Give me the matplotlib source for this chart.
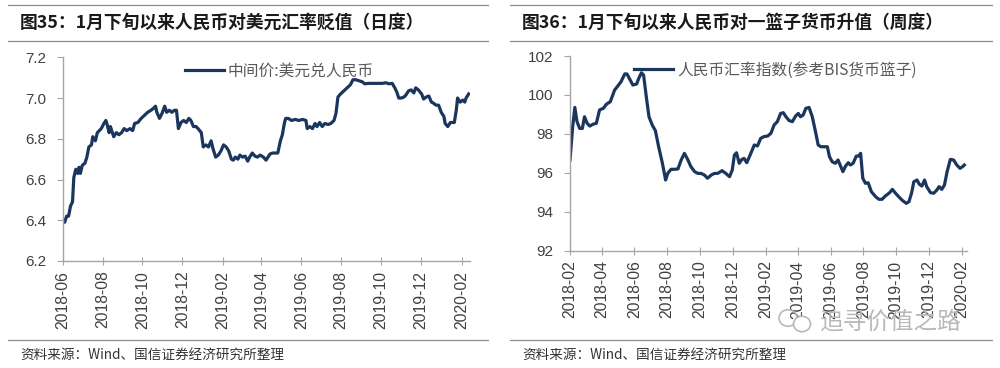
import pandas as pd
import matplotlib.pyplot as plt
from matplotlib.dates import MonthLocator, DateFormatter
from matplotlib.lines import Line2D
from matplotlib.patches import Ellipse

plt.rcParams['font.family'] = ['Liberation Sans', 'Noto Sans CJK SC', 'DejaVu Sans']
plt.rcParams['axes.unicode_minus'] = False

# 图35 中间价:美元兑人民币（日度，按图读取）
usd_dates = [
    '2018-06-02', '2018-06-04', '2018-06-07', '2018-06-10', '2018-06-13', '2018-06-16', '2018-06-18',
    '2018-06-21', '2018-06-24', '2018-06-26', '2018-06-28', '2018-07-01', '2018-07-05', '2018-07-08',
    '2018-07-11', '2018-07-15', '2018-07-17', '2018-07-21', '2018-07-24', '2018-07-27', '2018-07-30',
    '2018-08-03', '2018-08-06', '2018-08-08', '2018-08-11', '2018-08-13', '2018-08-16', '2018-08-18',
    '2018-08-22', '2018-08-26', '2018-08-30', '2018-09-03', '2018-09-07', '2018-09-12', '2018-09-16',
    '2018-09-19', '2018-09-24', '2018-09-29', '2018-10-04', '2018-10-09', '2018-10-14', '2018-10-18',
    '2018-10-21', '2018-10-23', '2018-10-27', '2018-10-31', '2018-11-04', '2018-11-07', '2018-11-11',
    '2018-11-15', '2018-11-19', '2018-11-22', '2018-11-25', '2018-11-29', '2018-12-03', '2018-12-07',
    '2018-12-11', '2018-12-14', '2018-12-18', '2018-12-22', '2018-12-25', '2018-12-30', '2019-01-02',
    '2019-01-06', '2019-01-10', '2019-01-14', '2019-01-17', '2019-01-21', '2019-01-25', '2019-01-29',
    '2019-02-02', '2019-02-06', '2019-02-10', '2019-02-14', '2019-02-17', '2019-02-20', '2019-02-24',
    '2019-02-27', '2019-03-03', '2019-03-07', '2019-03-11', '2019-03-14', '2019-03-18', '2019-03-22',
    '2019-03-26', '2019-03-30', '2019-04-04', '2019-04-08', '2019-04-11', '2019-04-14', '2019-04-18',
    '2019-04-22', '2019-04-26', '2019-04-30', '2019-05-03', '2019-05-06', '2019-05-08', '2019-05-12',
    '2019-05-17', '2019-05-23', '2019-05-28', '2019-06-03', '2019-06-08', '2019-06-10', '2019-06-14',
    '2019-06-18', '2019-06-22', '2019-06-25', '2019-06-29', '2019-07-03', '2019-07-07', '2019-07-12',
    '2019-07-16', '2019-07-21', '2019-07-24', '2019-07-27', '2019-07-31', '2019-08-05', '2019-08-10',
    '2019-08-15', '2019-08-19', '2019-08-23', '2019-08-28', '2019-09-02', '2019-09-06', '2019-09-12',
    '2019-09-22', '2019-10-03', '2019-10-08', '2019-10-13', '2019-10-18', '2019-10-22', '2019-10-25',
    '2019-10-28', '2019-11-01', '2019-11-05', '2019-11-08', '2019-11-12', '2019-11-16', '2019-11-20',
    '2019-11-23', '2019-11-27', '2019-12-02', '2019-12-05', '2019-12-09', '2019-12-13', '2019-12-17',
    '2019-12-20', '2019-12-24', '2019-12-28', '2020-01-01', '2020-01-05', '2020-01-07', '2020-01-11',
    '2020-01-15', '2020-01-18', '2020-01-21', '2020-01-24', '2020-01-26', '2020-01-30', '2020-02-03',
    '2020-02-06', '2020-02-08', '2020-02-12',
]
usd_cny = [
    6.40, 6.39, 6.42, 6.42, 6.47, 6.49, 6.61,
    6.65, 6.63, 6.66, 6.63, 6.67, 6.68, 6.71,
    6.76, 6.77, 6.81, 6.79, 6.83, 6.84, 6.85,
    6.875, 6.89, 6.87, 6.83, 6.86, 6.83, 6.81,
    6.83, 6.82, 6.83, 6.85, 6.84, 6.85, 6.84,
    6.875, 6.88, 6.90, 6.915, 6.93, 6.94, 6.95,
    6.96, 6.93, 6.90, 6.925, 6.96, 6.93, 6.94,
    6.93, 6.94, 6.94, 6.85, 6.88, 6.89, 6.88,
    6.90, 6.89, 6.86, 6.86, 6.85, 6.83, 6.76,
    6.77, 6.76, 6.79, 6.75, 6.71, 6.72, 6.74,
    6.77, 6.76, 6.74, 6.70, 6.695, 6.71, 6.70,
    6.72, 6.71, 6.715, 6.69, 6.71, 6.73, 6.715,
    6.71, 6.72, 6.71, 6.695, 6.71, 6.725, 6.73,
    6.73, 6.73, 6.79, 6.82, 6.875, 6.90, 6.90,
    6.89, 6.895, 6.89, 6.895, 6.89, 6.85, 6.86,
    6.85, 6.875, 6.86, 6.88, 6.86, 6.875, 6.87,
    6.875, 6.89, 6.925, 7.005, 7.02, 7.035, 7.05,
    7.065, 7.09, 7.09, 7.085, 7.08, 7.07, 7.072,
    7.072, 7.072, 7.075, 7.07, 7.072, 7.05, 7.03,
    7.00, 7.00, 7.005, 7.015, 7.035, 7.04, 7.025,
    7.05, 7.04, 7.02, 6.995, 7.005, 7.01, 6.98,
    6.975, 6.965, 6.965, 6.93, 6.91, 6.875, 6.86,
    6.88, 6.88, 6.88, 6.94, 7.00, 6.98, 6.99,
    6.98, 7.00, 7.02,
]

# 图36 人民币汇率指数(参考BIS货币篮子)（周度，按图读取）
bis_dates = [
    '2018-02-01', '2018-02-06', '2018-02-10', '2018-02-14', '2018-02-19', '2018-02-24', '2018-02-28',
    '2018-03-05', '2018-03-10', '2018-03-16', '2018-03-22', '2018-03-28', '2018-04-04', '2018-04-10',
    '2018-04-17', '2018-04-25', '2018-05-01', '2018-05-07', '2018-05-14', '2018-05-18', '2018-05-24',
    '2018-05-29', '2018-06-05', '2018-06-09', '2018-06-14', '2018-06-18', '2018-06-23', '2018-06-28',
    '2018-07-04', '2018-07-10', '2018-07-16', '2018-07-23', '2018-07-29', '2018-08-02', '2018-08-08',
    '2018-08-14', '2018-08-21', '2018-08-27', '2018-09-02', '2018-09-08', '2018-09-14', '2018-09-21',
    '2018-09-27', '2018-10-03', '2018-10-09', '2018-10-15', '2018-10-22', '2018-10-28', '2018-11-03',
    '2018-11-11', '2018-11-18', '2018-11-25', '2018-11-30', '2018-12-04', '2018-12-08', '2018-12-13',
    '2018-12-18', '2018-12-22', '2018-12-27', '2019-01-01', '2019-01-06', '2019-01-10', '2019-01-16',
    '2019-01-22', '2019-01-28', '2019-02-04', '2019-02-10', '2019-02-16', '2019-02-22', '2019-02-28',
    '2019-03-05', '2019-03-10', '2019-03-16', '2019-03-22', '2019-03-28', '2019-04-02', '2019-04-06',
    '2019-04-11', '2019-04-16', '2019-04-22', '2019-04-28', '2019-05-04', '2019-05-09', '2019-05-14',
    '2019-05-20', '2019-05-26', '2019-05-30', '2019-06-04', '2019-06-10', '2019-06-15', '2019-06-20',
    '2019-06-24', '2019-06-29', '2019-07-04', '2019-07-08', '2019-07-13', '2019-07-19', '2019-07-23',
    '2019-07-27', '2019-07-31', '2019-08-05', '2019-08-10', '2019-08-16', '2019-08-24', '2019-08-30',
    '2019-09-05', '2019-09-11', '2019-09-19', '2019-09-24', '2019-09-30', '2019-10-06', '2019-10-12',
    '2019-10-20', '2019-10-25', '2019-10-30', '2019-11-03', '2019-11-09', '2019-11-13', '2019-11-18',
    '2019-11-23', '2019-11-27', '2019-12-04', '2019-12-10', '2019-12-16', '2019-12-20', '2019-12-25',
    '2019-12-30', '2020-01-04', '2020-01-10', '2020-01-16', '2020-01-22', '2020-01-28', '2020-02-02',
    '2020-02-05',
]
bis_index = [
    96.66, 98.37, 99.36, 98.63, 98.28, 98.28, 98.88,
    98.54, 98.40, 98.50, 98.54, 99.23, 99.31, 99.53,
    99.65, 100.25, 100.46, 100.68, 101.08, 101.08, 100.77,
    100.51, 100.56, 100.85, 101.14, 101.02, 99.91, 98.88,
    98.46, 98.16, 97.34, 96.49, 95.63, 95.97, 96.18,
    96.18, 96.20, 96.66, 97.00, 96.69, 96.32, 96.06,
    95.97, 95.97, 95.89, 95.72, 95.89, 95.97, 95.97,
    96.11, 95.97, 95.80, 96.14, 96.91, 97.03, 96.49,
    96.69, 96.74, 96.52, 96.83, 97.17, 97.43, 97.38,
    97.77, 97.86, 97.89, 98.03, 98.46, 98.63, 99.05,
    99.09, 98.88, 98.68, 98.63, 98.92, 99.05, 98.88,
    98.97, 99.31, 99.36, 98.88, 98.11, 97.43, 97.34,
    97.34, 97.34, 96.83, 96.57, 96.49, 96.66, 96.32,
    96.06, 96.35, 96.52, 96.40, 96.49, 96.86, 96.86,
    97.00, 95.72, 95.46, 95.49, 95.03, 94.77, 94.64,
    94.64, 94.81, 94.98, 95.15, 94.95, 94.77, 94.60,
    94.43, 94.52, 94.98, 95.54, 95.63, 95.42, 95.32,
    95.63, 95.29, 94.98, 94.95, 95.12, 95.29, 95.15,
    95.37, 96.06, 96.69, 96.66, 96.40, 96.23, 96.32,
    96.40,
]

cjk = ['Noto Sans CJK SC', 'DejaVu Sans']
line_color = '#1B365D'
axis_color = '#A6A6A6'
tick_color = '#404040'


def draw_panel(fig, rect, x0, x1, dates, values, ylim, yticks, months, legend_txt, legend_x):
    ax = fig.add_axes(rect)
    ax.plot(pd.to_datetime(dates), values, color=line_color, linewidth=2.3, solid_joinstyle='round')
    ax.set_xlim(pd.Timestamp(x0), pd.Timestamp(x1))
    ax.set_ylim(*ylim)
    ax.set_yticks(yticks)
    ax.set_yticklabels([str(t) for t in yticks])
    ax.xaxis.set_major_locator(MonthLocator(bymonth=months))
    ax.xaxis.set_major_formatter(DateFormatter('%Y-%m'))
    for lab in ax.get_xticklabels():
        lab.set_rotation(90)
    for s in ['top', 'right']:
        ax.spines[s].set_visible(False)
    for s in ['left', 'bottom']:
        ax.spines[s].set_color(axis_color)
        ax.spines[s].set_linewidth(1.0)
    ax.tick_params(axis='y', direction='out', length=4, color=axis_color, labelsize=11,
                   labelcolor=tick_color, pad=8)
    ax.tick_params(axis='x', direction='inout', length=6, color=axis_color, labelsize=11.3,
                   labelcolor=tick_color, pad=4)
    h = Line2D([], [], color=line_color, linewidth=2.3)
    leg = ax.legend([h], [legend_txt], loc='upper left', bbox_to_anchor=(legend_x, 1.045),
                    frameon=False, prop={'family': cjk, 'size': 11.3}, handlelength=2.5,
                    handletextpad=0.25)
    for t in leg.get_texts():
        t.set_color('#595959')
    return ax


fig = plt.figure(figsize=(10, 3.68), dpi=100)

draw_panel(fig, [0.0627, 0.2908, 0.4073, 0.5535], '2018-06-01', '2020-02-14',
           usd_dates, usd_cny, (6.2, 7.2), [6.2, 6.4, 6.6, 6.8, 7.0, 7.2], [2, 4, 6, 8, 10, 12],
           '中间价:美元兑人民币', 0.265)
draw_panel(fig, [0.570, 0.3188, 0.397, 0.529], '2018-02-01', '2020-02-10',
           bis_dates, bis_index, (92, 102), [92, 94, 96, 98, 100, 102], [2, 4, 6, 8, 10, 12],
           '人民币汇率指数(参考BIS货币篮子)', 0.125)

# 标题、分隔线和资料来源
for xa, xb, title, src in [
    (0.008, 0.488, '图35：1月下旬以来人民币对美元汇率贬值（日度）', '资料来源：Wind、国信证券经济研究所整理'),
    (0.510, 0.992, '图36：1月下旬以来人民币对一篮子货币升值（周度）', '资料来源：Wind、国信证券经济研究所整理'),
]:
    for yy in [1 - 5 / 368, 1 - 40.5 / 368, 1 - 340 / 368]:
        fig.add_artist(Line2D([xa, xb], [yy, yy], transform=fig.transFigure,
                              color='#8C8C8C', linewidth=0.9))
    fig.text(xa + 0.012, 1 - 23 / 368, title, family=cjk, fontsize=12.8, fontweight='bold',
             color='#1A1A1A', va='center', ha='left')
    fig.text(xa + 0.012, 1 - 355 / 368, src, family=cjk, fontsize=9.8,
             color='#333333', va='center', ha='left')

# 水印
fig.text(0.820, 1 - 322 / 368, '追寻价值之路', family=cjk, fontsize=17,
         color='#B8B8B8', va='center', ha='left')
fig.add_artist(Ellipse((0.788, 1 - 318 / 368), 0.018, 0.045, transform=fig.transFigure,
                       fill=False, edgecolor='#B8B8B8', linewidth=1.2))
fig.add_artist(Ellipse((0.802, 1 - 324 / 368), 0.017, 0.042, transform=fig.transFigure,
                       facecolor='white', edgecolor='#B8B8B8', linewidth=1.2))

fig.savefig('out.png', dpi=100)
